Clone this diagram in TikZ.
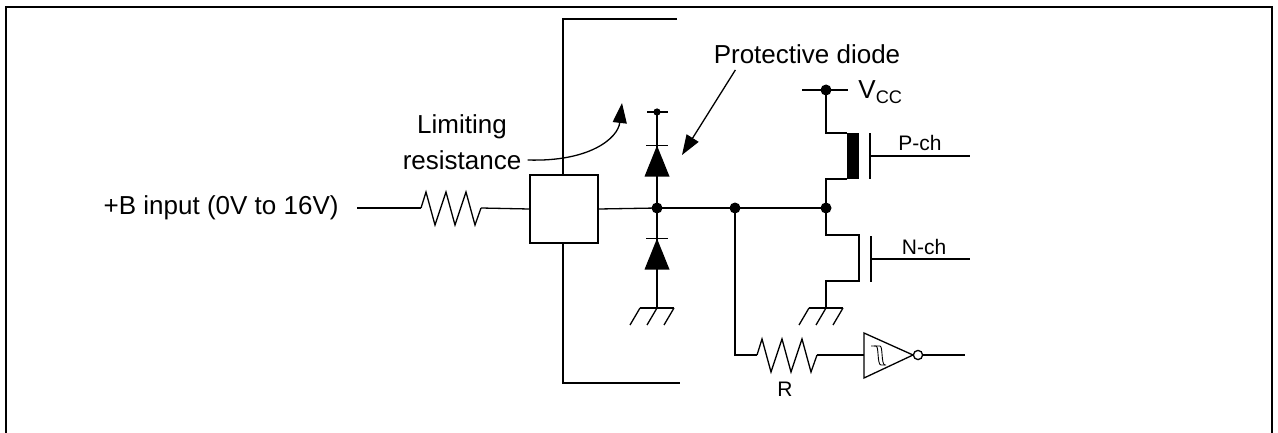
\documentclass[tikz,border=0pt]{standalone}
\usepackage{fontspec}
\setmainfont{Liberation Sans}
\usetikzlibrary{arrows.meta,positioning}
\tikzset{
  wire/.style={line width=0.65pt},
  dot/.style={circle,fill,inner sep=0pt,minimum size=5.5pt},
  smalldot/.style={circle,fill,inner sep=0pt,minimum size=3.6pt},
  lbl/.style={font=\fontsize{13}{15}\selectfont,inner sep=0pt},
  smalllbl/.style={font=\fontsize{10.5}{12}\selectfont,inner sep=0pt},
  pointer/.style={line width=0.65pt,-{Triangle[length=10pt,width=7pt]}},
  diodeup/.pic={
    \fill (-12.5,15.5) -- (12.5,15.5) -- (0,-15.5) -- cycle;
    \draw[wire] (-11,-15.5) -- (11,-15.5);
  },
  gnd/.pic={
    \draw[wire] (-17,0) -- (17,0);
    \foreach \gx in {-17,0,17}
      \draw[wire] (\gx,0) -- ++(-10,17);
  },
  zigzag/.pic={
    \draw[wire] (0,0) -- (5,-16) -- (14,17) -- (25,-16) -- (34,17)
      -- (45,-16) -- (54,17) -- (60,0);
  }
}

\begin{document}
\begin{tikzpicture}[x=0.5pt,y=-0.5pt]
  \useasboundingbox (0,0) rectangle (1278,433);
  % outer frame
  \draw[line width=1pt] (6,433) -- (6,7) -- (1272,7) -- (1272,433);
  % chip boundary
  \draw[wire] (677,19) -- (563,19) -- (563,383) -- (680,383);

  % input and limiting resistance
  \node[lbl,anchor=east] (inp) at (339,208) {+B input (0V to 16V)};
  \coordinate (ra) at (421,208);
  \coordinate (rb) at (481,208);
  \pic at (ra) {zigzag};
  \draw[wire] ([xshift=9pt]inp.east) -- (ra);
  \node[draw,wire,fill=white,minimum width=34pt,minimum height=34pt,inner sep=0pt]
    (limbox) at (564,209) {};
  \draw[wire] (rb) -- (limbox.west);
  \node[lbl] (lim1) at (462,127) {Limiting};
  \node[lbl] (lim2) at (462,160) {resistance};
  \coordinate (limtip) at (622,103);
  \draw[pointer] ([xshift=3pt]lim2.east) .. controls (590,162) and (618,138) .. (limtip);

  % protective diodes
  \coordinate (jd) at (657,208);
  \coordinate (dtop) at (657,112);
  \coordinate (dgnd) at (657,308);
  \draw[wire] (limbox.east) -- (jd);
  \draw[wire] (dtop) -- (dgnd);
  \draw[wire] (647,112) -- (668,112);
  \node[smalldot] at (dtop) {};
  \pic at (657,161) {diodeup};
  \pic at (657,254) {diodeup};
  \pic at (dgnd) {gnd};
  \node[dot] at (jd) {};
  \node[lbl] (protd) at (807,54) {Protective diode};
  \coordinate (pdtip) at (682,155);
  \draw[pointer] ([xshift=11pt,yshift=-3pt]protd.south west) -- (pdtip);

  % input line and pull resistor R
  \coordinate (jr) at (735,208);
  \coordinate (jm) at (826,208);
  \draw[wire] (jd) -- (jm);
  \node[dot] at (jr) {};
  \node[dot] at (jm) {};
  \coordinate (rra) at (757,355);
  \coordinate (rrb) at (817,355);
  \draw[wire] (jr) |- (rra);
  \pic at (rra) {zigzag};
  \node[smalllbl] (rlbl) at (785,389) {R};

  % schmitt inverter
  \draw[wire] (864,333) -- (913,355) -- (864,378) -- cycle;
  \node[circle,draw,wire,fill=white,minimum size=4.6pt,inner sep=0pt] (bub) at (918,355) {};
  \draw[wire] (rrb) -- (864,355);
  \draw[wire] (bub.east) -- (965,355);
  \draw[line width=0.45pt] (871,346) -- (876,346) .. controls (879,346) and (877,365) .. (881,365) -- (886,365);
  \draw[line width=0.45pt] (874,346) -- (880,346) .. controls (883,346) and (881,365) .. (885,365);

  % P-ch transistor and VCC
  \coordinate (vd) at (826,90);
  \draw[wire] (802,90) -- (848,90);
  \node[dot] at (vd) {};
  \node[lbl,anchor=west] (vcc) at (858,92) {V\textsubscript{CC}};
  \draw[wire] (vd) -- (826,133) -- (847,133);
  \fill (847,133) rectangle (859,179);
  \draw[wire] (847,179) -- (826,179) -- (jm);
  \draw[wire] (870,133) -- (870,179);
  \draw[wire] (870,156) -- (970,156);
  \node[smalllbl] (pch) at (920,143) {P-ch};

  % N-ch transistor
  \coordinate (ngnd) at (826,308);
  \draw[wire] (jm) -- (826,235) -- (859,235) -- (859,281) -- (826,281) -- (ngnd);
  \draw[wire] (871,236) -- (871,282);
  \draw[wire] (871,259) -- (970,259);
  \node[smalllbl] (nch) at (924,247) {N-ch};
  \pic at (ngnd) {gnd};
\end{tikzpicture}
\end{document}
